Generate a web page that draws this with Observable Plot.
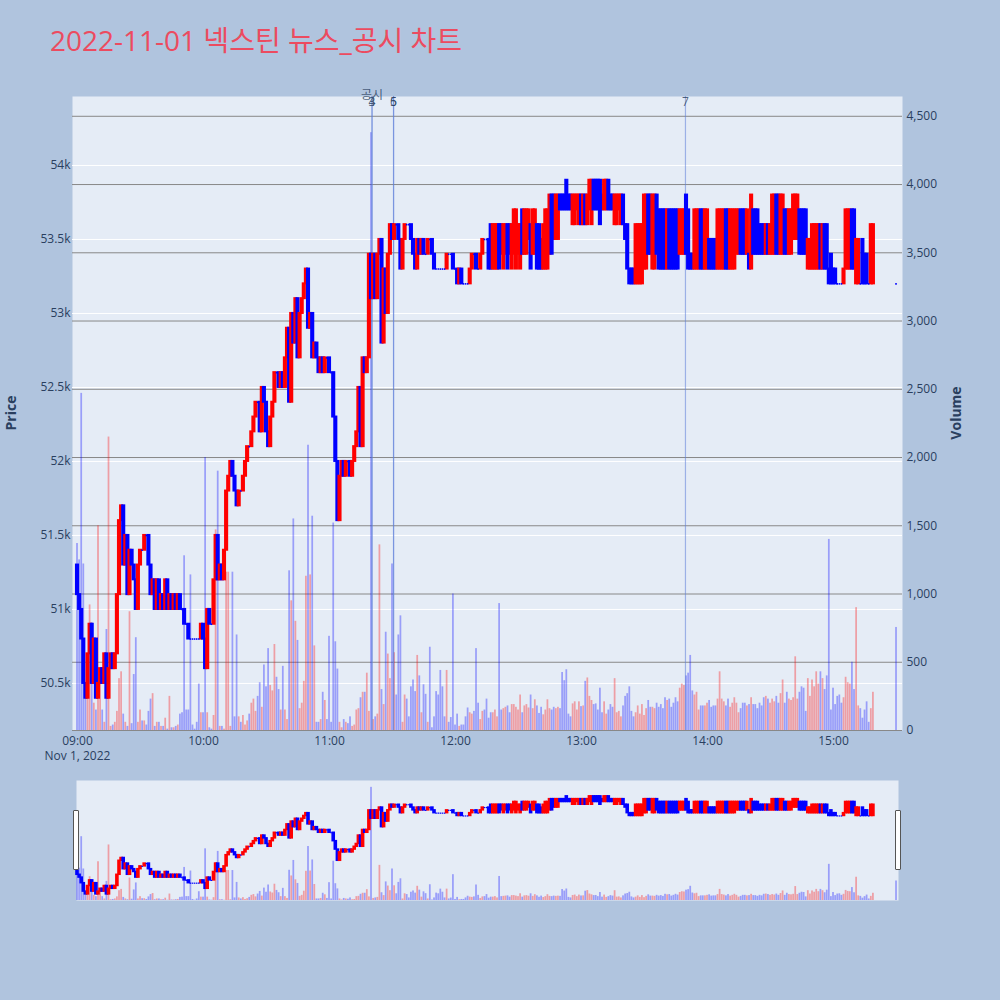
<!DOCTYPE html>
<html>
<head>
<meta charset="utf-8">
<script src="https://cdn.jsdelivr.net/npm/d3@7"></script>
<script src="https://cdn.jsdelivr.net/npm/@observablehq/plot@0.6"></script>
<style>
  html, body { margin: 0; padding: 0; background: #b0c4de; }
  #wrap { position: relative; width: 1000px; height: 1000px; background: #b0c4de; font-family: "Open Sans", "Noto Sans CJK KR", sans-serif; overflow: hidden; }
  #title { position: absolute; left: 50px; top: 26px; font-size: 28px; line-height: 28px; color: #ec4b60; white-space: nowrap; font-family: "Open Sans", "Noto Sans CJK KR", sans-serif; }
  .axtitle { position: absolute; font-weight: bold; font-size: 14px; color: #2a3f5f; transform: translate(-50%, -50%) rotate(-90deg); white-space: nowrap; }
  .handle { position: absolute; width: 4px; height: 58px; background: #fff; border: 1px solid #555; border-radius: 1px; }
</style>
</head>
<body>
<div id="wrap">
  <div id="title">2022-11-01 넥스틴 뉴스_공시 차트</div>
  <div class="axtitle" style="left:10px; top:413px;">Price</div>
  <div class="axtitle" style="left:955px; top:413px;">Volume</div>
</div>
<script>
// ---------------- DATA ----------------
// one candle per minute from 09:00 to 15:19; prices in units of 100 won
const open100 = [
  513,511,510,508,505,504,507,509,505,508,
  504,505,506,505,507,504,506,507,506,507,
  511,516,517,513,515,511,514,513,512,510,
  513,514,514,515,515,513,511,512,510,512,
  510,511,510,512,510,511,510,511,510,511,
  510,510,509,509,508,508,508,508,508,508,
  509,508,506,510,509,509,512,515,512,513,
  512,514,518,519,520,519,518,517,518,518,
  519,520,521,521,522,523,524,524,522,525,
  524,522,521,523,524,526,526,525,526,525,
  527,529,524,530,528,531,527,530,531,532,
  533,529,530,527,528,527,526,527,526,527,
  527,526,526,523,520,516,519,520,519,520,
  520,519,520,521,522,525,521,527,526,527,
  534,531,534,531,534,535,528,533,530,534,
  536,535,536,536,535,533,535,536,536,536,
  535,534,533,535,534,535,534,534,535,535,
  534,533,533,533,533,533,533,534,534,534,
  533,533,532,533,532,532,532,532,533,534,
  534,533,533,534,535,535,535,536,533,533,
  533,536,536,533,534,536,536,533,534,533,
  534,533,537,534,534,535,536,534,534,536,
  536,535,533,533,533,534,538,538,535,535,
  538,538,538,539,538,538,536,536,537,536,
  538,536,538,536,537,536,539,539,539,539,
  538,537,537,539,538,538,536,536,537,536,
  538,536,536,533,533,533,532,532,532,532,
  533,533,538,538,533,533,538,537,537,537,
  537,533,537,537,537,537,537,534,534,534,
  538,537,534,534,533,533,533,537,537,533,
  533,535,535,535,535,533,533,533,533,537,
  537,533,533,533,534,534,537,537,537,534,
  534,533,537,537,537,536,536,536,534,536,
  534,534,534,538,538,534,534,537,537,534,
  534,535,535,535,537,537,537,537,533,533,
  533,533,533,533,536,533,536,536,533,534,
  533,533,532,532,532,532,533,533,533,537,
  537,532,532,532,535,534,534,532,532,532
];
const close100 = [
  511,510,508,505,504,507,509,505,508,504,
  505,506,505,507,504,506,507,506,507,511,
  516,517,513,515,511,514,513,512,510,513,
  514,514,515,515,513,511,512,510,512,510,
  511,510,512,510,511,510,511,510,511,510,
  510,509,509,508,508,508,508,508,508,509,
  508,506,510,509,509,512,515,512,513,512,
  514,518,519,520,519,518,517,518,518,519,
  520,521,521,522,523,524,524,522,525,524,
  522,521,523,524,526,526,525,526,525,527,
  529,524,530,528,531,527,530,531,532,533,
  529,530,527,528,527,526,527,526,527,527,
  526,526,523,520,516,519,520,519,520,520,
  519,520,521,522,525,521,527,526,527,534,
  531,534,531,534,535,528,533,530,534,536,
  535,536,536,535,533,535,536,536,536,535,
  534,533,535,534,535,534,534,535,535,534,
  533,533,533,533,533,533,534,534,534,533,
  533,532,533,532,532,532,532,533,534,534,
  533,533,534,535,535,535,533,533,536,536,
  536,533,534,536,536,533,534,536,537,537,
  536,536,534,537,537,537,533,537,537,533,
  533,533,536,537,537,538,534,535,538,538,
  537,537,537,537,537,537,538,538,538,538,
  536,538,536,538,539,539,537,537,537,536,
  537,539,539,537,537,537,538,538,538,538,
  536,535,533,532,532,532,536,536,536,536,
  538,538,534,534,538,538,534,533,533,533,
  533,537,533,533,533,533,533,537,537,537,
  534,533,533,533,537,537,537,533,533,537,
  537,533,533,533,533,537,537,537,537,533,
  533,537,537,537,537,537,534,534,534,537,
  533,538,534,534,534,534,534,534,536,534,
  536,538,538,534,534,538,538,534,534,537,
  537,538,538,538,534,534,534,534,535,535,
  536,536,536,536,533,536,533,533,532,532,
  532,532,532,532,532,533,537,537,537,533,
  533,535,535,532,532,532,532,532,536,536
];
const volumes = [
  1370,1250,2470,1220,300,530,920,790,200,150,
  1500,340,150,60,740,2150,30,40,60,140,
  380,430,120,60,30,870,50,410,680,60,
  150,70,70,40,140,230,270,30,60,60,
  30,30,90,10,250,20,20,30,40,120,
  130,1280,150,150,1140,40,10,60,340,130,
  130,2000,130,20,10,110,1470,1900,30,30,
  10,1160,1160,30,1160,100,700,100,60,110,
  40,70,120,200,230,140,250,350,170,480,
  320,600,330,290,630,390,300,150,470,150,
  80,1170,950,1550,800,660,160,200,360,1130,
  2090,1140,1570,620,60,60,80,280,220,80,
  690,60,1520,650,450,60,20,80,60,50,
  100,30,40,150,160,240,280,280,420,140,
  4380,80,100,120,1360,300,190,720,560,380,
  1220,570,260,700,840,60,260,230,100,320,
  370,285,550,400,130,335,265,60,610,20,
  100,285,260,440,320,100,440,60,95,1000,
  40,120,30,40,40,100,165,130,120,140,
  600,200,80,140,150,230,90,130,130,150,
  100,930,150,160,170,180,130,190,190,170,
  150,260,130,180,190,165,260,160,225,180,
  125,170,115,150,225,160,150,170,160,170,
  160,425,365,445,120,100,195,210,150,210,
  175,180,360,385,250,220,190,195,150,310,
  130,210,120,150,190,170,380,130,140,100,
  180,250,270,320,140,100,130,180,120,190,
  110,160,220,170,170,160,200,170,190,160,
  240,220,230,170,200,240,210,310,340,330,
  400,420,550,290,260,280,150,180,180,180,
  200,220,170,180,180,230,430,230,210,180,
  230,170,200,240,200,130,160,200,200,180,
  190,240,190,190,160,200,180,240,250,230,
  200,230,210,250,200,270,370,200,280,230,
  220,240,540,230,280,320,310,140,380,250,
  370,320,430,340,430,380,300,400,1400,150,
  310,190,250,260,200,240,390,350,340,500,
  300,900,180,160,90,150,210,60,160,280
];
// closing auction print at 15:30
const auctionTime = "15:30";
const auctionPrice100 = 532;
const auctionVolume = 755;

// news / disclosure markers
const newsTimes  = ["11:20:15", "11:20:15", "11:30:30", "11:30:30", "13:49:30"];
const newsLabels = ["3", "4", "5", "6", "7"];
const newsHeadTime = "11:20:15";
const newsHeadText = "공시";

const priceTicks = [50500, 51000, 51500, 52000, 52500, 53000, 53500, 54000];
const volumeTicks = [0, 500, 1000, 1500, 2000, 2500, 3000, 3500, 4000, 4500];
const hourTicks = ["09:00", "10:00", "11:00", "12:00", "13:00", "14:00", "15:00"];
const dateLabel = "Nov 1, 2022";

// ---------------- BUILD ----------------
const T = (hms) => { const [h, m, s] = hms.split(":").map(Number); return new Date(Date.UTC(2022, 10, 1, h, m, s || 0)); };
const rows = close100.map((c, i) => ({
  time: new Date(Date.UTC(2022, 10, 1, 9, i)),
  open: open100[i] * 100,
  close: c * 100,
  volume: volumes[i]
}));
rows.push({ time: T(auctionTime), open: auctionPrice100 * 100, close: auctionPrice100 * 100, volume: auctionVolume });
const news = newsTimes.map((s, i) => ({ time: T(s), label: newsLabels[i] }));
const hours = hourTicks.map(T);

const UP = "#ff0000", DOWN = "#0000ff";
const dirColor = d => d.close > d.open ? UP : DOWN;
const shift = (d, s) => new Date(+d.time + s * 1000);

const W = 1000, ML = 72, MR = 98;
const xDomain = [T("08:57:37"), T("15:32:51")];
const priceDomain = [50182, 54466];
const volDomain = [0, 4645];
const FONT = '"Open Sans", "Noto Sans CJK KR", sans-serif';

function cfg(top, height, mt, mb, yDomain, marks) {
  return {
    width: W, height, marginLeft: ML, marginRight: MR, marginTop: mt, marginBottom: mb,
    x: { type: "utc", domain: xDomain, axis: null },
    y: { domain: yDomain, axis: null },
    color: { type: "identity" },
    style: { position: "absolute", left: "0px", top: top + "px", background: "transparent", overflow: "visible",
             fontFamily: FONT, fontSize: "12px", color: "#2a3f5f" },
    marks
  };
}

function candleMarks(lineW, dojiWidth) {
  return [
    Plot.rect(rows.filter(d => d.open !== d.close), {
      x1: d => shift(d, -30), x2: d => shift(d, 30), y1: "open", y2: "close",
      fill: dirColor, stroke: dirColor, strokeWidth: lineW
    }),
    Plot.ruleY(rows.filter(d => d.open === d.close), {
      x1: d => shift(d, -22), x2: d => shift(d, 22), y: "close", stroke: DOWN, strokeWidth: dojiWidth
    })
  ];
}
function volumeMarks() {
  return Plot.rectY(rows, {
    x1: d => shift(d, -25), x2: d => shift(d, 25), y: "volume", fill: dirColor, fillOpacity: 0.33
  });
}

const wrap = document.getElementById("wrap");
const H = 780, MT = 96, MB = 50;

// Layer 1: background, price grid & axes
wrap.appendChild(Plot.plot(cfg(0, H, MT, MB, priceDomain, [
  Plot.frame({ fill: "#e5ecf6", stroke: null }),
  Plot.gridY(priceTicks, { stroke: "#ffffff", strokeOpacity: 1, strokeWidth: 1 }),
  Plot.axisY(priceTicks, { anchor: "left", tickSize: 0, tickPadding: 2, label: null, tickFormat: d => (d / 1000) + "k" }),
  Plot.axisX(hours, { anchor: "bottom", tickSize: 0, tickPadding: 6, label: null, tickFormat: d3.utcFormat("%H:%M") }),
  Plot.text([hours[0]], { x: d => d, text: () => dateLabel, frameAnchor: "bottom", lineAnchor: "top", dy: 21, fill: "#2a3f5f" })
])));

// Layer 2: volume grid, axis, bars, news lines
wrap.appendChild(Plot.plot(cfg(0, H, MT, MB, volDomain, [
  Plot.gridY(volumeTicks, { stroke: "#888888", strokeOpacity: 1, strokeWidth: 1 }),
  Plot.axisY(volumeTicks, { anchor: "right", tickSize: 0, tickPadding: 4, label: null }),
  volumeMarks(),
  Plot.ruleX(news, { x: "time", stroke: "#5f7fd8", strokeOpacity: 0.55, strokeWidth: 1.2 }),
  Plot.text(news, { x: "time", text: "label", frameAnchor: "top", dy: 1, fill: "#2a3f5f", fillOpacity: 0.8 }),
  Plot.text([T(newsHeadTime)], { x: d => d, text: () => newsHeadText, frameAnchor: "top", dy: -6, fill: "#2a3f5f", fillOpacity: 0.8 })
])));

// Layer 3: candles
wrap.appendChild(Plot.plot(cfg(0, H, MT, MB, priceDomain, candleMarks(2, 1.6))));

// Range slider
wrap.appendChild(Plot.plot(cfg(780, 120, 0, 0, volDomain, [
  Plot.frame({ fill: "#e5ecf6", stroke: null, insetLeft: 4, insetRight: 4 }),
  volumeMarks()
])));
wrap.appendChild(Plot.plot(cfg(780, 120, 0, 0, priceDomain, candleMarks(1.5, 1.2))));

const h1 = document.createElement("div"); h1.className = "handle"; h1.style.left = "73px"; h1.style.top = "810px"; wrap.appendChild(h1);
const h2 = document.createElement("div"); h2.className = "handle"; h2.style.left = "895px"; h2.style.top = "810px"; wrap.appendChild(h2);
</script>
</body>
</html>
